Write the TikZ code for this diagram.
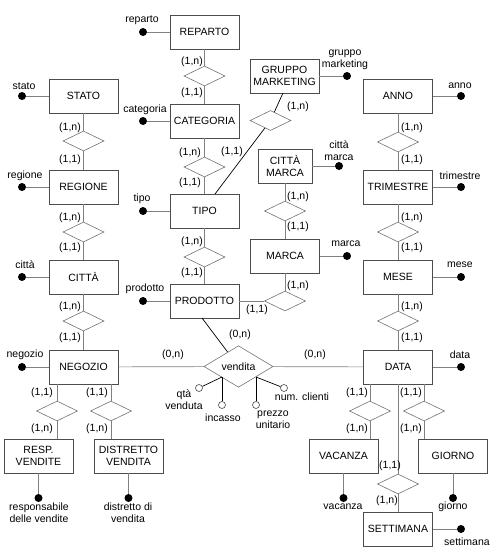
\documentclass[tikz,border=0pt]{standalone}
\usepackage{fontspec}
\setmainfont{Liberation Sans}
\usetikzlibrary{shapes.geometric}
\newcommand\erfont{\fontsize{10.5}{12}\selectfont}
\begin{document}
\begin{tikzpicture}[x=1pt,y=-1pt,
  ent/.style={draw=black!70, line width=0.7pt, minimum width=69pt, minimum height=34pt, inner sep=1pt, align=center, font=\erfont},
  rel/.style={draw=black!55, line width=0.6pt, shape=diamond, minimum width=41pt, minimum height=20pt, inner sep=0pt},
  conn/.style={draw=black!50, line width=0.7pt},
  diag/.style={draw=black, line width=0.7pt},
  dot/.style={circle, fill=black, inner sep=0pt, minimum size=8pt},
  hdot/.style={circle, draw=black!70, fill=white, line width=0.6pt, inner sep=0pt, minimum size=7pt},
  lbl/.style={inner sep=0pt, align=center, font=\erfont}]
\useasboundingbox (0,0) rectangle (492,550);

% entities
\node[ent] (reparto) at (204.5,32) {REPARTO};
\node[ent] (stato) at (83.5,96) {STATO};
\node[ent] (categoria) at (204.5,121) {CATEGORIA};
\node[ent] (gm) at (284.5,76) {GRUPPO\\MARKETING};
\node[ent] (anno) at (398,96) {ANNO};
\node[ent, minimum width=54pt] (cittamarca) at (285,166) {CITTÀ\\MARCA};
\node[ent] (regione) at (83.5,187) {REGIONE};
\node[ent] (tipo) at (204.5,211) {TIPO};
\node[ent] (trimestre) at (398,187) {TRIMESTRE};
\node[ent] (marca) at (285,256) {MARCA};
\node[ent] (citta) at (83.5,277) {CITTÀ};
\node[ent] (prodotto) at (204.5,301) {PRODOTTO};
\node[ent] (mese) at (398,277) {MESE};
\node[ent] (negozio) at (83.5,367) {NEGOZIO};
\node[ent] (data) at (398,367) {DATA};
\node[ent] (resp) at (38.5,456) {RESP.\\VENDITE};
\node[ent] (distr) at (128.5,456) {DISTRETTO\\VENDITA};
\node[ent] (vacanza) at (343.5,456) {VACANZA};
\node[ent] (giorno) at (453,456) {GIORNO};
\node[ent] (settimana) at (398,529) {SETTIMANA};

% relationships
\node[rel] (r1) at (204.5,76) {};
\node[rel] (r2) at (83.5,141) {};
\node[rel] (r3) at (204.5,167) {};
\node[rel] (r4) at (270.5,120.5) {};
\node[rel] (r5) at (398,142) {};
\node[rel] (r6) at (83.5,232) {};
\node[rel] (r7) at (285,211) {};
\node[rel] (r8) at (398,232) {};
\node[rel] (r9) at (204.5,257) {};
\node[rel] (r10) at (285,301) {};
\node[rel] (r11) at (83.5,321) {};
\node[rel] (r12) at (398,321) {};
\node[rel] (r13) at (57,411) {};
\node[rel] (r14) at (111,411) {};
\node[rel] (r15) at (370,411) {};
\node[rel] (r16) at (424,411) {};
\node[rel] (r17) at (398,484) {};
\node[rel, minimum width=69pt, minimum height=41pt, font=\erfont] (vendita) at (238.5,366.5) {vendita};

% chains
\draw[conn] (reparto) -- (r1) -- (categoria) -- (r3) -- (tipo) -- (r9) -- (prodotto);
\draw[conn] (stato) -- (r2) -- (regione) -- (r6) -- (citta) -- (r11) -- (negozio);
\draw[conn] (anno) -- (r5) -- (trimestre) -- (r8) -- (mese) -- (r12) -- (data);
\draw[conn] (cittamarca) -- (r7) -- (marca) -- (r10) -- (prodotto);
\coordinate (gmA) at (283,93);
\coordinate (tipoA) at (215,194);
\draw[diag] (gmA) -- (r4) -- (tipoA);
\coordinate (prodA) at (202,318);
\draw[diag] (prodA) -- (vendita);
\draw[conn] (negozio) -- (vendita) -- (data);
\draw[conn] (negozio.south -| r13) -- (r13) -- (resp.north -| r13);
\draw[conn] (negozio.south -| r14) -- (r14) -- (distr.north -| r14);
\draw[conn] (data.south -| r15) -- (r15) -- (vacanza.north -| r15);
\draw[conn] (data.south -| r16) -- (r16) -- (giorno.north -| r16);
\draw[conn] (data) -- (r17) -- (settimana);

% attributes (filled)
\foreach \n/\e/\x/\y in {areparto/reparto/143/32, astato/stato/22/96, acategoria/categoria/143/121,
  aregione/regione/22/187, acitta/citta/22/277, atipo/tipo/143/211, aprodotto/prodotto/143/301,
  anegozio/negozio/22/367, agm/gm/347/76, acittamarca/cittamarca/339/166, aanno/anno/461/96,
  atrimestre/trimestre/461/187, amarca/marca/347/256, amese/mese/461/277, adata/data/461/367,
  aresp/resp/38.5/498, adistr/distr/128.5/498, avacanza/vacanza/343.5/498, agiorno/giorno/453/498,
  asettimana/settimana/461/529}
{
  \node[dot] (\n) at (\x,\y) {};
  \draw[conn] (\n) -- (\e);
}

% attribute labels
\foreach \x/\y/\t [count=\i] in {142/20/reparto, 24/86/stato, 145/110/categoria, 25/176/regione,
  25/265/città, 142/199/tipo, 145/289/prodotto, 25/355/negozio, 345/60/{gruppo\\marketing},
  339/151/{città\\marca}, 460/86/anno, 460/176/trimestre, 346/244/marca, 460/265/mese,
  460/355/data, 39/513/{responsabile\\delle vendite}, 128/513/{distretto di\\vendita},
  343/507/vacanza, 453/507/giorno, 467/542/settimana}
{
  \node[lbl] (alab\i) at (\x,\y) {\t};
}

% vendita attributes
\coordinate (vL) at (222,377);
\coordinate (vR) at (256,377);
\node[hdot] (hqta) at (199,388) {};
\node[hdot] (hinc) at (222,405) {};
\node[hdot] (hprz) at (256,405) {};
\node[hdot] (hnum) at (284,388) {};
\draw[diag] (vL) -- (hqta);
\draw[diag] (vL) -- (hinc);
\draw[diag] (vR) -- (hprz);
\draw[diag] (vR) -- (hnum);
\node[lbl] (lqta) at (184,400) {qtà\\venduta};
\node[lbl] (linc) at (223,418) {incasso};
\node[lbl] (lprz) at (273,420) {prezzo\\unitario};
\node[lbl] (lnum) at (302,397) {num. clienti};

% cardinalities
\foreach \x/\y/\t [count=\i] in {192/62/{(1,n)}, 192/93/{(1,1)}, 190/153/{(1,n)}, 190/183/{(1,1)},
  232/152/{(1,1)}, 298/107/{(1,n)}, 192/242/{(1,n)}, 192/273/{(1,1)},
  70/128/{(1,n)}, 70/160/{(1,1)}, 70/218/{(1,n)}, 70/248/{(1,1)}, 70/307/{(1,n)}, 70/338/{(1,1)},
  412/128/{(1,n)}, 412/160/{(1,1)}, 412/218/{(1,n)}, 412/248/{(1,1)}, 412/307/{(1,n)}, 412/338/{(1,1)},
  298/197/{(1,n)}, 298/227/{(1,1)}, 298/286/{(1,n)}, 257/310/{(1,1)},
  240/335/{(0,n)}, 173/355/{(0,n)}, 315/355/{(0,n)},
  42/393/{(1,1)}, 42/429/{(1,n)}, 97/393/{(1,1)}, 97/429/{(1,n)},
  357/393/{(1,1)}, 357/429/{(1,n)}, 411/393/{(1,1)}, 411/429/{(1,n)},
  390/466/{(1,1)}, 387/501/{(1,n)}}
{
  \node[lbl] (card\i) at (\x,\y) {\t};
}
\end{tikzpicture}
\end{document}
